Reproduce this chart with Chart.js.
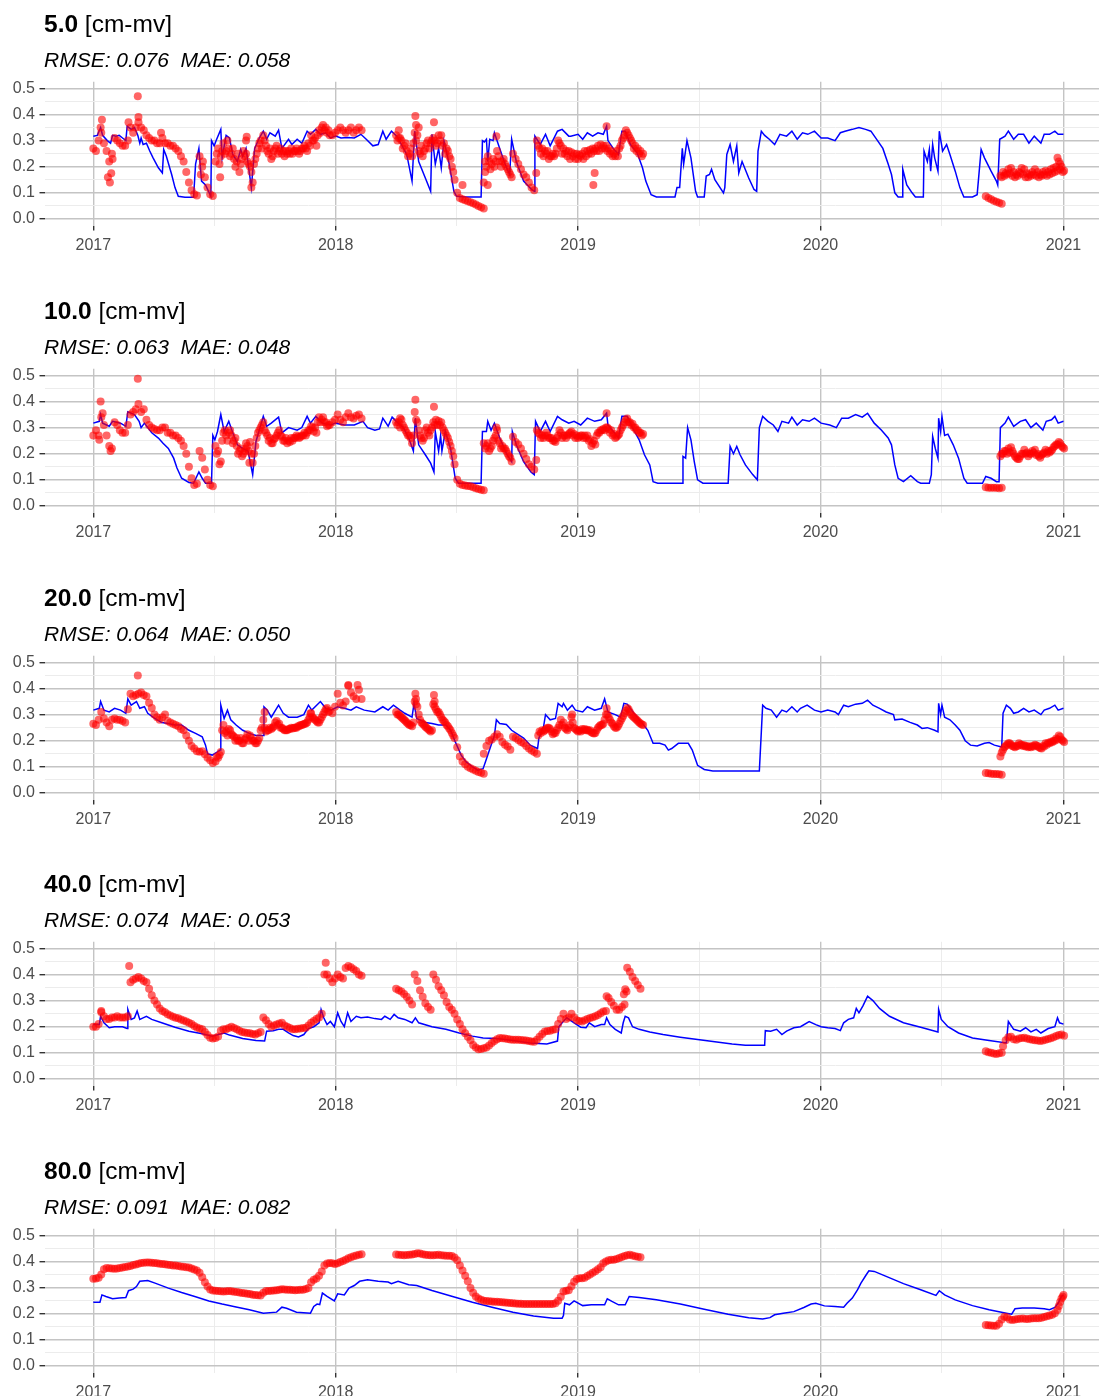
<!DOCTYPE html>
<html>
<head>
<meta charset="utf-8">
<script src="https://cdn.jsdelivr.net/npm/chart.js@4.4.0/dist/chart.umd.min.js"></script>
<style>
  html, body { margin: 0; padding: 0; background: #fff; overflow: hidden; }
  #wrap { position: relative; width: 1099px; height: 1396px; overflow: hidden; }
  .panel { position: absolute; left: 0; width: 1099px; height: 287px; }
  .panel canvas { position: absolute; left: 0; top: 0; }
  .title { position: absolute; left: 44px; top: 12px; font: 24.5px/24px 'Liberation Sans', Arial, sans-serif; color: #000; white-space: pre; }
  .title b { font-weight: bold; }
  .sub { position: absolute; left: 44px; top: 49px; font: italic 21px/21px 'Liberation Sans', Arial, sans-serif; color: #000; white-space: pre; }
</style>
</head>
<body>
<div id="wrap"></div>
<script>
// ---- panel headings ----
const depths = ['5.0', '10.0', '20.0', '40.0', '80.0'];
const rmse = ['0.076', '0.063', '0.064', '0.074', '0.091'];
const mae = ['0.058', '0.048', '0.050', '0.053', '0.082'];

// ---- axis breaks (x in days since 2017-01-01) ----
const yearTicks = [0, 365, 730, 1095, 1461];
const yearLabels = ['2017', '2018', '2019', '2020', '2021'];
const midYearTicks = [182.5, 547.5, 912.5, 1278];
const yMajorTicks = [0, 0.1, 0.2, 0.3, 0.4, 0.5];
const yMajorLabels = ['0.0', '0.1', '0.2', '0.3', '0.4', '0.5'];
const yMinorTicks = [0.05, 0.15, 0.25, 0.35, 0.45];

// ---- simulated soil moisture: [day, value] vertices ----
const model5 = [[0,0.317],[6,0.32],[11,0.35],[14,0.32],[21,0.30],[26,0.29],[29,0.32],[34,0.317],[39,0.32],[44,0.31],[49,0.30],[51,0.355],[57,0.343],[62,0.35],[67,0.32],[70,0.29],[72,0.31],[75,0.285],[80,0.29],[85,0.26],[90,0.234],[98,0.196],[104,0.176],[106,0.266],[110,0.24],[118,0.17],[123,0.12],[128,0.087],[138,0.083],[151,0.083],[154,0.21],[159,0.27],[163,0.145],[169,0.13],[177,0.087],[178,0.30],[182,0.28],[185,0.30],[192,0.343],[194,0.234],[200,0.32],[205,0.31],[210,0.247],[217,0.22],[222,0.266],[225,0.24],[230,0.27],[238,0.12],[243,0.27],[250,0.31],[256,0.336],[261,0.305],[266,0.33],[274,0.317],[279,0.34],[284,0.27],[294,0.305],[299,0.285],[307,0.305],[314,0.29],[322,0.336],[327,0.324],[335,0.343],[342,0.324],[350,0.33],[357,0.31],[365,0.317],[373,0.31],[383,0.312],[393,0.31],[403,0.324],[411,0.305],[421,0.28],[429,0.285],[436,0.336],[441,0.305],[449,0.336],[457,0.317],[464,0.285],[472,0.247],[480,0.145],[484,0.336],[490,0.22],[500,0.157],[508,0.106],[510,0.324],[515,0.21],[520,0.27],[524,0.196],[528,0.30],[536,0.21],[543,0.106],[547,0.087],[561,0.084],[584,0.084],[586,0.30],[589,0.295],[592,0.305],[594,0.22],[597,0.305],[602,0.30],[604,0.33],[612,0.27],[620,0.21],[627,0.17],[630,0.305],[637,0.22],[648,0.145],[660,0.113],[664,0.106],[665,0.317],[673,0.285],[681,0.324],[688,0.28],[699,0.336],[706,0.343],[716,0.317],[719,0.317],[730,0.324],[737,0.305],[744,0.33],[752,0.317],[760,0.33],[768,0.324],[773,0.355],[775,0.30],[783,0.27],[791,0.247],[796,0.336],[801,0.336],[809,0.285],[819,0.253],[827,0.196],[832,0.145],[840,0.093],[848,0.084],[876,0.084],[879,0.12],[883,0.12],[887,0.27],[889,0.21],[894,0.30],[900,0.234],[907,0.106],[910,0.084],[920,0.084],[923,0.164],[928,0.17],[931,0.19],[936,0.15],[949,0.10],[951,0.12],[954,0.247],[959,0.285],[964,0.22],[969,0.28],[972,0.176],[977,0.22],[987,0.157],[995,0.113],[999,0.106],[1001,0.26],[1006,0.336],[1011,0.32],[1018,0.305],[1026,0.285],[1034,0.324],[1044,0.317],[1052,0.336],[1060,0.305],[1068,0.33],[1076,0.324],[1086,0.336],[1096,0.31],[1106,0.31],[1117,0.30],[1125,0.33],[1132,0.336],[1143,0.343],[1153,0.35],[1163,0.343],[1171,0.336],[1181,0.30],[1189,0.27],[1197,0.21],[1202,0.17],[1207,0.10],[1212,0.084],[1218,0.084],[1219,0.19],[1225,0.13],[1233,0.10],[1238,0.084],[1250,0.084],[1251,0.26],[1256,0.22],[1259,0.266],[1261,0.183],[1264,0.285],[1267,0.234],[1272,0.183],[1274,0.336],[1279,0.26],[1285,0.285],[1290,0.247],[1298,0.183],[1305,0.12],[1311,0.084],[1324,0.084],[1331,0.093],[1337,0.266],[1342,0.234],[1352,0.183],[1360,0.145],[1362,0.13],[1365,0.305],[1373,0.317],[1378,0.336],[1386,0.305],[1393,0.324],[1401,0.324],[1409,0.29],[1417,0.317],[1427,0.29],[1432,0.324],[1440,0.324],[1448,0.336],[1453,0.324],[1461,0.324]];

const model10 = [[0,0.317],[9,0.324],[11,0.35],[14,0.317],[24,0.305],[29,0.324],[41,0.317],[49,0.305],[52,0.36],[62,0.35],[69,0.324],[72,0.30],[77,0.317],[88,0.28],[98,0.26],[105,0.24],[113,0.22],[121,0.183],[126,0.145],[133,0.106],[144,0.09],[151,0.087],[159,0.13],[164,0.106],[169,0.087],[178,0.087],[180,0.27],[183,0.253],[187,0.285],[192,0.35],[197,0.285],[204,0.324],[210,0.28],[217,0.234],[225,0.22],[233,0.21],[240,0.12],[245,0.247],[256,0.343],[261,0.305],[268,0.317],[279,0.34],[284,0.28],[294,0.30],[307,0.29],[314,0.30],[322,0.343],[327,0.317],[335,0.343],[345,0.317],[357,0.31],[365,0.317],[378,0.31],[393,0.31],[406,0.324],[413,0.30],[424,0.29],[431,0.295],[436,0.336],[444,0.305],[450,0.34],[459,0.317],[467,0.30],[475,0.26],[482,0.21],[485,0.336],[490,0.234],[500,0.196],[508,0.164],[513,0.13],[515,0.285],[520,0.21],[523,0.27],[525,0.21],[530,0.285],[538,0.22],[545,0.106],[550,0.087],[584,0.087],[586,0.285],[592,0.285],[594,0.324],[599,0.29],[604,0.317],[612,0.26],[623,0.196],[630,0.17],[631,0.285],[637,0.234],[648,0.17],[659,0.13],[664,0.12],[666,0.324],[673,0.285],[681,0.324],[688,0.285],[699,0.343],[706,0.33],[716,0.317],[724,0.324],[734,0.31],[744,0.336],[755,0.324],[765,0.33],[773,0.355],[775,0.31],[783,0.285],[791,0.26],[796,0.343],[804,0.343],[812,0.30],[822,0.253],[830,0.196],[838,0.157],[843,0.093],[850,0.087],[887,0.087],[888,0.19],[892,0.183],[895,0.30],[900,0.253],[905,0.17],[910,0.10],[918,0.087],[956,0.087],[959,0.228],[964,0.20],[969,0.228],[974,0.196],[982,0.157],[993,0.12],[1000,0.10],[1003,0.30],[1008,0.343],[1016,0.324],[1024,0.31],[1031,0.285],[1037,0.324],[1047,0.317],[1052,0.34],[1060,0.31],[1068,0.33],[1078,0.324],[1086,0.336],[1096,0.317],[1109,0.31],[1119,0.30],[1127,0.336],[1137,0.336],[1148,0.35],[1158,0.34],[1166,0.355],[1176,0.317],[1187,0.29],[1197,0.26],[1202,0.234],[1207,0.157],[1212,0.106],[1220,0.093],[1231,0.116],[1241,0.093],[1246,0.087],[1259,0.087],[1262,0.12],[1264,0.266],[1268,0.22],[1272,0.183],[1273,0.336],[1276,0.285],[1278,0.343],[1282,0.27],[1287,0.275],[1295,0.234],[1303,0.183],[1311,0.106],[1316,0.087],[1339,0.087],[1344,0.113],[1352,0.106],[1360,0.093],[1364,0.093],[1366,0.30],[1373,0.317],[1378,0.34],[1386,0.305],[1396,0.324],[1404,0.33],[1412,0.30],[1420,0.317],[1430,0.29],[1435,0.324],[1443,0.33],[1448,0.343],[1453,0.317],[1461,0.324]];

const model20 = [[0,0.317],[9,0.324],[11,0.35],[16,0.317],[24,0.31],[32,0.324],[41,0.317],[49,0.305],[52,0.36],[57,0.336],[65,0.35],[70,0.324],[77,0.33],[82,0.305],[93,0.285],[103,0.27],[113,0.266],[123,0.26],[133,0.26],[144,0.24],[154,0.228],[164,0.215],[169,0.183],[172,0.15],[179,0.145],[187,0.157],[191,0.164],[192,0.336],[197,0.285],[202,0.317],[207,0.28],[215,0.26],[225,0.24],[235,0.228],[245,0.22],[256,0.22],[257,0.33],[262,0.317],[268,0.29],[279,0.336],[286,0.305],[294,0.29],[307,0.29],[317,0.30],[324,0.336],[329,0.317],[342,0.35],[350,0.324],[358,0.317],[368,0.33],[378,0.324],[388,0.317],[396,0.33],[408,0.317],[424,0.31],[436,0.33],[444,0.317],[452,0.336],[462,0.317],[469,0.305],[480,0.29],[483,0.343],[487,0.285],[500,0.27],[510,0.266],[520,0.26],[531,0.26],[538,0.24],[545,0.196],[554,0.145],[561,0.12],[571,0.10],[579,0.087],[587,0.093],[592,0.13],[599,0.183],[604,0.22],[607,0.28],[612,0.266],[622,0.262],[630,0.24],[637,0.228],[648,0.21],[658,0.183],[669,0.17],[671,0.21],[678,0.253],[681,0.30],[688,0.28],[696,0.285],[700,0.343],[706,0.33],[708,0.343],[714,0.317],[721,0.336],[726,0.317],[737,0.31],[744,0.33],[755,0.317],[765,0.324],[770,0.36],[775,0.31],[786,0.30],[794,0.29],[799,0.343],[804,0.34],[814,0.305],[827,0.266],[835,0.24],[843,0.19],[853,0.19],[861,0.183],[866,0.164],[871,0.17],[881,0.19],[896,0.19],[902,0.164],[910,0.106],[920,0.09],[933,0.084],[1003,0.084],[1006,0.234],[1008,0.336],[1013,0.324],[1021,0.317],[1029,0.29],[1037,0.317],[1044,0.31],[1052,0.33],[1060,0.31],[1065,0.324],[1075,0.336],[1086,0.317],[1096,0.31],[1106,0.317],[1117,0.31],[1122,0.30],[1130,0.336],[1137,0.33],[1148,0.34],[1158,0.343],[1166,0.355],[1174,0.336],[1184,0.324],[1194,0.31],[1205,0.30],[1207,0.28],[1218,0.283],[1230,0.27],[1241,0.26],[1248,0.247],[1256,0.25],[1267,0.24],[1272,0.234],[1273,0.343],[1276,0.30],[1278,0.336],[1282,0.29],[1290,0.28],[1298,0.26],[1305,0.24],[1313,0.20],[1321,0.183],[1331,0.18],[1342,0.19],[1349,0.193],[1357,0.183],[1368,0.176],[1370,0.305],[1375,0.336],[1381,0.324],[1386,0.305],[1393,0.31],[1401,0.324],[1409,0.31],[1417,0.317],[1427,0.30],[1432,0.317],[1440,0.324],[1448,0.336],[1453,0.317],[1461,0.324]];

const model40 = [[0,0.208],[9,0.208],[11,0.24],[16,0.215],[24,0.196],[32,0.20],[44,0.20],[51,0.193],[52,0.266],[57,0.228],[62,0.234],[66,0.26],[70,0.228],[75,0.234],[80,0.24],[88,0.228],[103,0.215],[123,0.198],[144,0.183],[164,0.173],[179,0.164],[197,0.176],[205,0.168],[225,0.155],[245,0.147],[258,0.145],[261,0.183],[271,0.185],[279,0.19],[286,0.19],[294,0.176],[301,0.166],[309,0.161],[317,0.17],[324,0.193],[332,0.20],[340,0.215],[343,0.266],[347,0.234],[352,0.208],[357,0.22],[363,0.20],[368,0.253],[373,0.22],[378,0.20],[383,0.253],[388,0.22],[396,0.24],[403,0.234],[413,0.237],[424,0.231],[434,0.228],[439,0.24],[447,0.228],[453,0.247],[459,0.234],[469,0.228],[480,0.215],[485,0.234],[490,0.215],[510,0.20],[531,0.19],[551,0.176],[571,0.164],[587,0.157],[607,0.155],[632,0.147],[658,0.138],[683,0.134],[699,0.145],[701,0.20],[706,0.215],[713,0.234],[724,0.215],[734,0.198],[742,0.196],[747,0.215],[755,0.20],[765,0.208],[770,0.208],[773,0.234],[778,0.208],[786,0.19],[795,0.176],[798,0.215],[801,0.24],[806,0.234],[812,0.20],[822,0.19],[838,0.18],[858,0.17],[884,0.16],[910,0.151],[936,0.142],[962,0.134],[982,0.129],[1011,0.129],[1012,0.185],[1020,0.183],[1029,0.19],[1037,0.17],[1044,0.183],[1055,0.196],[1065,0.20],[1078,0.22],[1088,0.208],[1096,0.20],[1106,0.196],[1117,0.193],[1125,0.185],[1130,0.215],[1137,0.228],[1145,0.234],[1149,0.27],[1153,0.253],[1159,0.28],[1166,0.317],[1174,0.30],[1184,0.27],[1199,0.24],[1220,0.215],[1246,0.198],[1272,0.18],[1273,0.266],[1277,0.228],[1287,0.20],[1303,0.176],[1324,0.157],[1349,0.147],[1375,0.138],[1378,0.22],[1386,0.19],[1396,0.183],[1404,0.196],[1412,0.18],[1420,0.19],[1427,0.176],[1438,0.193],[1448,0.20],[1452,0.234],[1455,0.215],[1461,0.21]];

const model80 = [[0,0.244],[10,0.244],[13,0.272],[19,0.266],[29,0.257],[39,0.26],[49,0.262],[53,0.288],[60,0.294],[65,0.304],[70,0.324],[82,0.327],[93,0.317],[113,0.298],[133,0.281],[154,0.265],[174,0.249],[194,0.237],[215,0.226],[235,0.215],[256,0.202],[276,0.206],[284,0.225],[291,0.221],[306,0.206],[327,0.202],[332,0.228],[337,0.237],[341,0.235],[345,0.279],[352,0.266],[363,0.249],[368,0.276],[378,0.272],[385,0.298],[393,0.308],[401,0.324],[413,0.33],[429,0.324],[444,0.321],[449,0.315],[459,0.324],[475,0.311],[487,0.308],[510,0.289],[541,0.266],[571,0.244],[602,0.224],[632,0.206],[663,0.191],[693,0.183],[706,0.183],[708,0.193],[710,0.24],[717,0.234],[724,0.249],[737,0.231],[750,0.234],[770,0.234],[774,0.257],[781,0.247],[791,0.234],[801,0.234],[807,0.266],[822,0.262],[848,0.253],[884,0.237],[920,0.217],[956,0.198],[987,0.185],[1008,0.18],[1019,0.185],[1026,0.196],[1039,0.202],[1055,0.208],[1070,0.224],[1081,0.237],[1088,0.24],[1101,0.23],[1117,0.228],[1130,0.225],[1135,0.24],[1143,0.26],[1151,0.292],[1156,0.317],[1164,0.349],[1168,0.364],[1176,0.362],[1194,0.343],[1220,0.315],[1246,0.292],[1269,0.27],[1274,0.288],[1282,0.272],[1298,0.253],[1324,0.231],[1349,0.215],[1375,0.202],[1383,0.198],[1388,0.219],[1399,0.222],[1417,0.222],[1432,0.219],[1440,0.215],[1448,0.224],[1453,0.24],[1458,0.266],[1461,0.272]];

// ---- observed soil moisture ----
// each run: [first day, readings taken every OBS_STEP days]
const OBS_STEP = 4;

const obs5 = [
  [0, [0.27,0.26,0.30,0.33,0.29,0.26,0.22,0.25,0.31,0.30,0.29,0.28,0.28,0.30,0.35,0.33,0.35,0.37,0.35,0.34,0.32,0.31,0.30,0.30,0.29,0.29,0.31,0.29,0.29,0.28,0.28,0.27,0.26,0.24,0.22,0.18,0.14,0.11,0.095,0.09,0.24,0.20,0.16,0.12,0.095,0.088,0.22,0.27,0.24,0.29,0.26,0.27,0.25,0.23,0.22,0.18,0.23,0.24,0.22,0.20,0.14,0.23,0.27,0.30,0.32,0.28,0.25,0.23,0.26,0.28,0.26,0.25,0.24,0.25,0.25,0.25,0.26,0.26,0.26,0.27,0.27,0.29,0.32,0.30,0.28,0.34,0.35,0.34,0.33,0.32,0.32,0.33,0.34,0.35,0.34,0.33,0.34,0.35,0.33,0.34,0.35,0.34]],
  [186, [0.25,0.21,0.26,0.25,0.30,0.24,0.27,0.20,0.25,0.21,0.26,0.25,0.21,0.18,0.21,0.25,0.29,0.27,0.30,0.26,0.27,0.24,0.27,0.25,0.27,0.26,0.26,0.26,0.27,0.26,0.27,0.25,0.27,0.28,0.26,0.28,0.30,0.31,0.32,0.33,0.36,0.35,0.34]],
  [456, [0.32,0.31,0.30,0.28,0.26,0.25,0.24,0.33,0.32,0.25,0.24,0.27,0.30,0.29,0.31,0.28,0.32,0.32,0.29,0.27,0.24,0.20,0.15,0.10,0.08,0.075,0.072,0.068,0.064,0.06,0.055,0.05,0.045,0.04]],
  [458, [0.30,0.31,0.27,0.29,0.24,0.27,0.29,0.30,0.26,0.28,0.26,0.29,0.27,0.30,0.30,0.29,0.30,0.28,0.25,0.26,0.23,0.18]],
  [588, [0.14,0.20,0.22,0.21,0.20,0.26,0.22,0.22,0.21,0.19,0.17,0.25,0.23,0.21,0.19,0.17,0.16,0.14,0.12,0.11,0.30,0.27,0.27,0.26,0.26,0.24,0.25,0.25,0.30,0.28,0.27,0.26,0.26,0.255,0.25,0.25,0.245,0.25,0.26,0.26,0.265,0.27,0.27,0.28,0.285,0.28,0.28,0.27,0.26,0.25,0.26,0.27,0.30,0.32,0.33,0.31,0.29,0.28,0.27,0.26,0.25]],
  [590, [0.18,0.24,0.19,0.23,0.22,0.24,0.20,0.23,0.20,0.18,0.16]],
  [670, [0.28,0.25,0.24,0.25,0.23,0.24,0.24,0.27,0.29,0.25,0.25,0.24,0.23,0.24,0.23,0.23,0.24,0.23,0.24,0.25,0.25,0.26,0.26,0.26,0.27,0.27,0.26,0.25,0.24,0.24,0.24,0.28,0.31,0.34,0.32,0.30,0.27,0.26,0.25,0.24]],
  [1344, [0.087,0.08,0.075,0.07,0.066,0.062,0.058]],
  [1366, [0.165,0.18,0.175,0.19,0.195,0.18,0.17,0.18,0.195,0.19,0.175,0.17,0.18,0.19,0.18,0.17,0.18,0.185,0.18,0.19,0.195,0.20,0.22,0.20,0.185]],
  [1368, [0.16,0.165,0.17,0.175,0.165,0.16,0.165,0.175,0.17,0.16,0.16,0.165,0.17,0.165,0.16,0.165,0.17,0.165,0.17,0.175,0.18,0.185,0.19,0.18]]
];
const obs5Extra = [[11,0.35],[13,0.38],[22,0.16],[25,0.14],[27,0.175],[29,0.23],[53,0.37],[67,0.47],[68,0.39],[102,0.33],[162,0.17],[165,0.22],[191,0.16],[230,0.30],[231,0.315],[238,0.12],[460,0.34],[485,0.394],[486,0.36],[490,0.35],[513,0.37],[556,0.13],[590,0.22],[594,0.13],[607,0.317],[667,0.176],[753,0.13],[755,0.176],[773,0.355],[1452,0.234],[1456,0.21]];

const obs10 = [
  [0, [0.27,0.29,0.27,0.34,0.31,0.27,0.23,0.22,0.32,0.31,0.29,0.28,0.28,0.31,0.35,0.36,0.37,0.39,0.36,0.37,0.33,0.31,0.30,0.295,0.29,0.29,0.30,0.30,0.28,0.28,0.27,0.27,0.26,0.25,0.23,0.20,0.15,0.106,0.08,0.085,0.21,0.185,0.14,0.10,0.08,0.075,0.23,0.21,0.17,0.28,0.27,0.28,0.27,0.25,0.23,0.21,0.19,0.21,0.23,0.245,0.165,0.23,0.28,0.30,0.32,0.28,0.25,0.24,0.255,0.27,0.29,0.265,0.25,0.24,0.245,0.25,0.26,0.265,0.265,0.27,0.27,0.29,0.305,0.285,0.28,0.34,0.33,0.32,0.305,0.31,0.32,0.33,0.35,0.33,0.32,0.34,0.355,0.34,0.335,0.345,0.35,0.335]],
  [186, [0.20,0.16,0.25,0.29,0.25,0.29,0.24,0.26,0.20,0.22,0.20,0.24,0.21,0.20,0.20,0.26,0.29,0.31,0.29,0.27,0.26,0.24,0.26,0.28,0.27,0.25,0.26,0.25,0.26,0.26,0.27,0.26,0.27,0.28,0.28,0.29,0.30,0.30,0.32,0.32,0.34,0.32,0.31]],
  [456, [0.32,0.32,0.33,0.30,0.28,0.27,0.24,0.36,0.32,0.27,0.25,0.29,0.28,0.29,0.32,0.33,0.325,0.32,0.29,0.27,0.245,0.21,0.16,0.10,0.085,0.08,0.078,0.076,0.075,0.072,0.068,0.065,0.062,0.06]],
  [458, [0.31,0.30,0.31,0.29,0.27,0.26,0.27,0.33,0.29,0.26,0.26,0.30,0.27,0.30,0.31,0.31,0.31,0.30,0.28,0.26,0.23,0.19]],
  [588, [0.24,0.23,0.21,0.23,0.26,0.29,0.24,0.23,0.22,0.20,0.185,0.265,0.245,0.235,0.22,0.20,0.18,0.16,0.15,0.14,0.29,0.275,0.27,0.27,0.27,0.26,0.25,0.245,0.27,0.28,0.27,0.26,0.275,0.285,0.275,0.27,0.265,0.27,0.27,0.27,0.255,0.24,0.235,0.28,0.29,0.295,0.30,0.295,0.29,0.275,0.265,0.275,0.30,0.32,0.335,0.32,0.315,0.30,0.29,0.28,0.275]],
  [590, [0.22,0.24,0.22,0.25,0.27,0.25,0.22,0.22,0.21,0.19,0.17]],
  [670, [0.28,0.26,0.26,0.28,0.26,0.26,0.25,0.26,0.29,0.26,0.27,0.27,0.28,0.27,0.26,0.26,0.27,0.26,0.26,0.25,0.23,0.25,0.27,0.28,0.29,0.29,0.30,0.28,0.27,0.26,0.27,0.29,0.31,0.33,0.32,0.31,0.30,0.29,0.28,0.27]],
  [1344, [0.072,0.07,0.07,0.07,0.07,0.068,0.07]],
  [1366, [0.19,0.20,0.21,0.22,0.225,0.20,0.185,0.18,0.20,0.215,0.205,0.20,0.21,0.215,0.20,0.185,0.20,0.215,0.21,0.21,0.225,0.235,0.245,0.23,0.22]],
  [1368, [0.20,0.21,0.20,0.205,0.21,0.19,0.18,0.19,0.20,0.20,0.19,0.20,0.205,0.195,0.19,0.195,0.205,0.20,0.205,0.215,0.23,0.235,0.24,0.225]]
];
const obs10Extra = [[9,0.253],[11,0.40],[14,0.355],[26,0.21],[67,0.487],[230,0.22],[235,0.165],[462,0.336],[485,0.407],[513,0.38],[607,0.30],[667,0.176],[773,0.355]];

const obs20 = [
  [0, [0.265,0.26,0.28,0.31,0.285,0.27,0.255,0.28,0.285,0.28,0.28,0.275,0.27,0.32,0.38,0.37,0.375,0.38,0.385,0.375,0.37,0.345,0.325,0.30,0.29,0.28,0.29,0.30,0.275,0.27,0.265,0.26,0.255,0.245,0.24,0.22,0.20,0.18,0.17,0.16,0.158,0.16,0.148,0.135,0.125,0.115,0.12,0.135,0.157,0.26,0.235,0.245,0.225,0.215,0.21,0.20,0.19,0.205,0.225,0.22,0.20,0.19,0.20,0.24,0.28,0.235,0.24,0.245,0.255,0.275,0.265,0.25,0.24,0.24,0.245,0.247,0.25,0.255,0.26,0.262,0.266,0.28,0.305,0.285,0.275,0.27,0.29,0.31,0.325,0.315,0.305,0.33,0.38,0.345,0.335,0.35,0.41,0.385,0.37,0.36,0.395,0.36]],
  [186, [0.14,0.145,0.24,0.23,0.22,0.24,0.22,0.20,0.20,0.21,0.19,0.21,0.20,0.21,0.20,0.19,0.21,0.25,0.25,0.24,0.25,0.25,0.27,0.26,0.25,0.245,0.24,0.245,0.25,0.25,0.25,0.255,0.26,0.265,0.27,0.29,0.29,0.28,0.27,0.28,0.30,0.32,0.31]],
  [456, [0.31,0.30,0.29,0.28,0.27,0.26,0.255,0.35,0.33,0.28,0.265,0.253,0.245,0.235,0.34,0.32,0.31,0.29,0.275,0.26,0.247,0.23,0.21,0.175,0.14,0.12,0.11,0.10,0.095,0.09,0.085,0.08,0.077,0.074]],
  [458, [0.30,0.295,0.285,0.275,0.265,0.26,0.27,0.34,0.30,0.27,0.26,0.25,0.24,0.24,0.33,0.31,0.30,0.28,0.27,0.255,0.24,0.22]],
  [588, [0.15,0.18,0.20,0.205,0.215,0.225,0.215,0.195,0.185,0.178,0.165,0.215,0.21,0.203,0.195,0.19,0.18,0.17,0.163,0.157,0.15,0.235,0.24,0.24,0.25,0.245,0.225,0.23,0.25,0.28,0.27,0.245,0.25,0.29,0.25,0.24,0.24,0.245,0.245,0.242,0.24,0.23,0.23,0.25,0.26,0.265,0.30,0.29,0.27,0.255,0.25,0.265,0.285,0.305,0.325,0.31,0.295,0.285,0.275,0.266,0.26]],
  [670, [0.22,0.23,0.235,0.245,0.25,0.235,0.23,0.24,0.26,0.26,0.25,0.24,0.26,0.27,0.245,0.235,0.235,0.24,0.24,0.238,0.232,0.228,0.24,0.255,0.26,0.28,0.30,0.28,0.265,0.25,0.255,0.275,0.295,0.315,0.32,0.30,0.29,0.28,0.27,0.262]],
  [1344, [0.076,0.075,0.074,0.073,0.073,0.072,0.07]],
  [1366, [0.14,0.165,0.18,0.19,0.185,0.178,0.18,0.19,0.185,0.183,0.18,0.178,0.18,0.185,0.18,0.172,0.18,0.19,0.192,0.196,0.20,0.208,0.22,0.205,0.195]],
  [1368, [0.155,0.175,0.185,0.19,0.18,0.175,0.18,0.185,0.18,0.178,0.175,0.175,0.178,0.182,0.175,0.17,0.178,0.185,0.19,0.194,0.20,0.205,0.215,0.20]]
];
const obs20Extra = [[67,0.45],[258,0.31],[327,0.305],[384,0.413],[398,0.413],[485,0.38],[486,0.36],[513,0.375],[514,0.35],[721,0.30],[773,0.324]];

const obs40 = [
  [0, [0.20,0.20,0.21,0.255,0.24,0.23,0.23,0.235,0.235,0.24,0.235,0.235,0.235,0.24,0.37,0.38,0.385,0.39,0.385,0.375,0.37,0.345,0.32,0.30,0.285,0.27,0.26,0.255,0.248,0.243,0.238,0.234,0.232,0.228,0.224,0.22,0.215,0.21,0.203,0.197,0.193,0.19,0.18,0.168,0.158,0.155,0.157,0.163,0.185,0.19,0.19,0.195,0.20,0.195,0.19,0.185,0.18,0.178,0.176,0.175,0.172,0.17,0.175,0.18,0.235,0.225,0.21,0.20,0.205,0.208,0.212,0.215,0.205,0.20,0.195,0.19,0.19,0.192,0.193,0.195,0.196,0.205,0.215,0.222,0.23,0.235,0.25,0.40,0.40,0.385,0.37,0.385,0.40,0.39,0.385,0.425,0.432,0.428,0.42,0.413,0.40,0.395]],
  [456, [0.345,0.34,0.335,0.325,0.315,0.30,0.285,0.40,0.375,0.34,0.315,0.29,0.275,0.265,0.40,0.38,0.355,0.34,0.32,0.295,0.275,0.265,0.25,0.228,0.21,0.19,0.175,0.162,0.148,0.13,0.12,0.114,0.115,0.118]],
  [592, [0.12,0.128,0.138,0.145,0.152,0.157,0.156,0.155,0.153,0.151,0.15,0.15,0.15,0.149,0.148,0.147,0.145,0.143,0.142,0.15,0.162,0.172,0.182,0.184,0.185,0.188,0.19,0.21,0.23,0.25,0.23,0.235,0.25,0.235,0.225,0.222,0.22,0.225,0.23,0.233,0.236,0.24,0.245,0.252,0.258,0.26,0.31,0.295,0.28,0.265,0.265,0.275,0.285]],
  [804, [0.426,0.41,0.39,0.375,0.36,0.345]],
  [1344, [0.106,0.102,0.10,0.097,0.096,0.098,0.10]],
  [1370, [0.125,0.148,0.16,0.162,0.152,0.15,0.155,0.157,0.158,0.155,0.152,0.15,0.148,0.147,0.145,0.147,0.15,0.153,0.156,0.16,0.164,0.168,0.17,0.165]]
];
const obs40Extra = [[12,0.26],[54,0.432],[350,0.445],[773,0.317],[799,0.324],[801,0.343],[803,0.335]];

const obs80 = [
  [0, [0.334,0.335,0.338,0.35,0.37,0.375,0.374,0.373,0.372,0.373,0.375,0.377,0.379,0.381,0.383,0.386,0.388,0.391,0.394,0.395,0.396,0.396,0.395,0.394,0.393,0.391,0.39,0.389,0.387,0.386,0.385,0.385,0.383,0.381,0.38,0.378,0.377,0.373,0.369,0.365,0.357,0.34,0.32,0.304,0.293,0.289,0.288,0.287,0.286,0.285,0.286,0.287,0.286,0.284,0.283,0.281,0.279,0.278,0.276,0.275,0.273,0.272,0.271,0.27,0.28,0.287,0.287,0.288,0.289,0.29,0.292,0.294,0.293,0.292,0.292,0.291,0.29,0.291,0.292,0.292,0.295,0.298,0.32,0.33,0.335,0.345,0.362,0.385,0.392,0.394,0.393,0.39,0.393,0.398,0.402,0.407,0.412,0.416,0.42,0.423,0.426,0.428]],
  [456, [0.427,0.426,0.425,0.424,0.425,0.426,0.427,0.429,0.431,0.43,0.428,0.426,0.425,0.424,0.424,0.425,0.426,0.424,0.423,0.422,0.422,0.421,0.415,0.405,0.385,0.365,0.345,0.324,0.298,0.28,0.266,0.258,0.253,0.25]],
  [592, [0.249,0.248,0.247,0.246,0.246,0.245,0.244,0.243,0.242,0.241,0.24,0.239,0.238,0.238,0.237,0.237,0.237,0.237,0.237,0.237,0.237,0.237,0.237,0.237,0.237,0.237,0.24,0.25,0.265,0.285,0.288,0.29,0.305,0.322,0.333,0.336,0.336,0.338,0.344,0.35,0.357,0.363,0.37,0.378,0.393,0.40,0.405,0.407,0.407,0.409,0.413,0.417,0.421,0.424,0.426,0.423,0.42,0.418,0.416]],
  [1344, [0.157,0.156,0.155,0.154,0.154,0.162,0.178,0.188,0.186,0.178,0.176,0.178,0.18,0.181,0.182,0.18,0.18,0.182,0.183,0.183,0.183,0.185,0.187,0.19,0.193,0.196,0.202,0.215,0.245,0.265]]
];
const obs80Extra = [[1454,0.23],[1458,0.258],[1461,0.272]];

const models = [model5, model10, model20, model40, model80];
const observations = [obs5, obs10, obs20, obs40, obs80];
const extras = [obs5Extra, obs10Extra, obs20Extra, obs40Extra, obs80Extra];

// ---- layout ----
const PANEL_H = 287;
const PANEL_PITCH = 286.75;
const X_MIN = -73.5, X_MAX = 1514.5;
const Y_MIN = -0.025, Y_MAX = 0.525;
const FONT = "'Liberation Sans', Arial, sans-serif";

const xTickValues = yearTicks.concat(midYearTicks).sort((a, b) => a - b);
const yTickValues = yMajorTicks.concat(yMinorTicks).sort((a, b) => a - b);
const yearIndex = v => yearTicks.indexOf(v);
const yMajorIndex = v => yMajorTicks.findIndex(t => Math.abs(t - v) < 1e-9);

function obsPoints(runs, extra) {
  const pts = [];
  runs.forEach(([start, vals]) => vals.forEach((v, i) => pts.push({ x: start + i * OBS_STEP, y: v })));
  extra.forEach(([d, v]) => pts.push({ x: d, y: v }));
  return pts;
}

const wrap = document.getElementById('wrap');
depths.forEach((depth, i) => {
  const panel = document.createElement('div');
  panel.className = 'panel';
  panel.style.top = Math.round(i * PANEL_PITCH) + 'px';

  const canvas = document.createElement('canvas');
  canvas.width = 1099;
  canvas.height = PANEL_H;
  panel.appendChild(canvas);

  const title = document.createElement('div');
  title.className = 'title';
  title.innerHTML = '<b>' + depth + '</b> [cm-mv]';
  panel.appendChild(title);

  const sub = document.createElement('div');
  sub.className = 'sub';
  sub.textContent = 'RMSE: ' + rmse[i] + '  MAE: ' + mae[i];
  panel.appendChild(sub);

  wrap.appendChild(panel);

  new Chart(canvas, {
    type: 'scatter',
    data: {
      datasets: [
        {
          label: 'observed',
          data: obsPoints(observations[i], extras[i]),
          pointRadius: 4,
          pointBackgroundColor: 'rgba(255,0,0,0.6)',
          pointBorderWidth: 0,
          pointBorderColor: 'rgba(0,0,0,0)',
          order: 0
        },
        {
          label: 'simulated',
          data: models[i].map(([d, v]) => ({ x: d, y: v })),
          showLine: true,
          borderColor: '#0000ff',
          borderWidth: 1.5,
          pointRadius: 0,
          tension: 0,
          order: 1
        }
      ]
    },
    options: {
      responsive: false,
      animation: false,
      devicePixelRatio: 1,
      layout: { autoPadding: false, padding: { top: 81.8, left: 0, right: 0, bottom: 0 } },
      plugins: { legend: { display: false }, tooltip: { enabled: false } },
      scales: {
        x: {
          type: 'linear',
          min: X_MIN,
          max: X_MAX,
          afterBuildTicks: s => { s.ticks = xTickValues.map(v => ({ value: v })); },
          afterFit: s => { s.height = PANEL_H - 225.5; },
          border: { display: false },
          grid: {
            color: c => (c.tick && yearIndex(c.tick.value) >= 0) ? '#c4c4c4' : '#ececec',
            lineWidth: c => (c.tick && yearIndex(c.tick.value) >= 0) ? 1.4 : 1,
            tickColor: c => (c.tick && yearIndex(c.tick.value) >= 0) ? '#333333' : 'rgba(0,0,0,0)',
            tickLength: 5,
            drawTicks: true
          },
          ticks: {
            autoSkip: false,
            maxRotation: 0,
            padding: 5,
            color: '#4d4d4d',
            font: { family: FONT, size: 16 },
            callback: v => { const k = yearIndex(v); return k >= 0 ? yearLabels[k] : ''; }
          }
        },
        y: {
          type: 'linear',
          min: Y_MIN,
          max: Y_MAX,
          afterBuildTicks: s => { s.ticks = yTickValues.map(v => ({ value: v })); },
          afterFit: s => { s.width = 44.5; },
          border: { display: false },
          grid: {
            color: c => (c.tick && yMajorIndex(c.tick.value) >= 0) ? '#c4c4c4' : '#ececec',
            lineWidth: c => (c.tick && yMajorIndex(c.tick.value) >= 0) ? 1.4 : 1,
            tickColor: c => (c.tick && yMajorIndex(c.tick.value) >= 0) ? '#333333' : 'rgba(0,0,0,0)',
            tickLength: 5,
            drawTicks: true
          },
          ticks: {
            autoSkip: false,
            padding: 4.5,
            color: '#4d4d4d',
            font: { family: FONT, size: 16 },
            callback: v => { const k = yMajorIndex(v); return k >= 0 ? yMajorLabels[k] : ''; }
          }
        }
      }
    }
  });
});
</script>
</body>
</html>
